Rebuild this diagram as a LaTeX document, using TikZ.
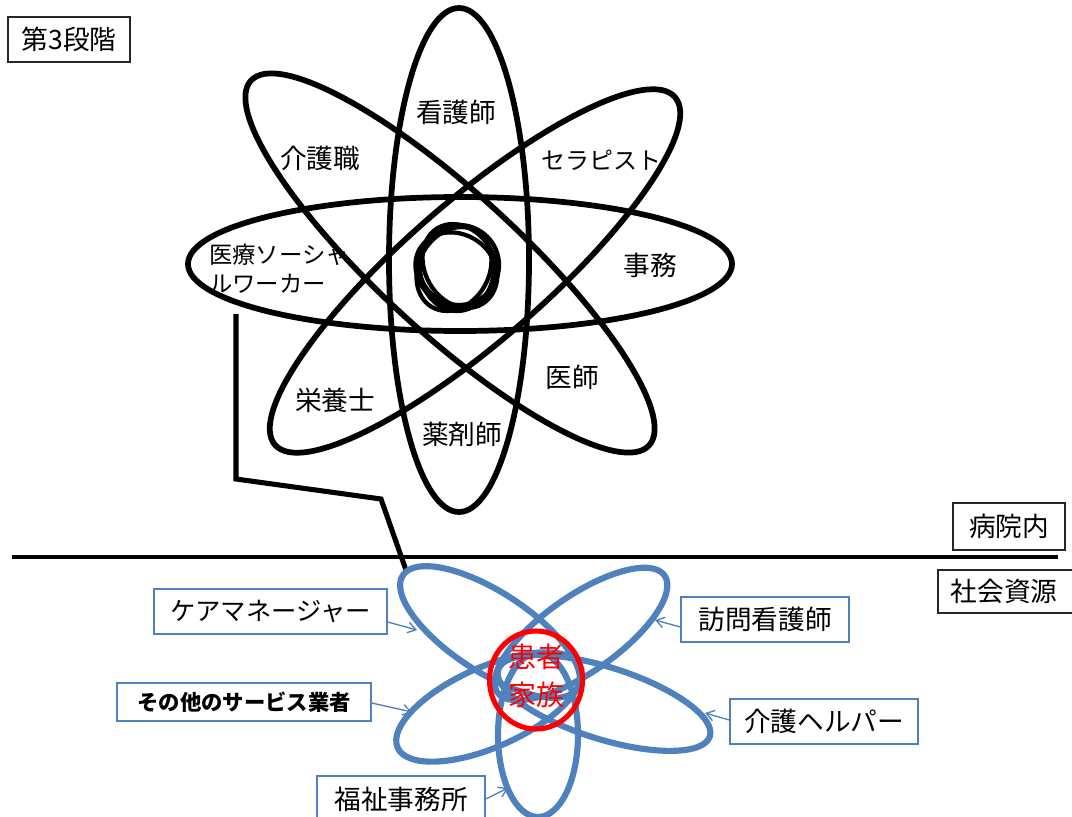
\documentclass[tikz,border=0pt]{standalone}
\usepackage{fontspec}
\setmainfont{Noto Sans CJK JP}
\usetikzlibrary{arrows.meta,calc}
\definecolor{pblue}{RGB}{79,129,189}
\begin{document}
\begin{tikzpicture}[x=0.75pt,y=0.75pt,
  blk/.style={draw=black,line width=4.3pt},
  ring/.style={draw=black,line width=3.2pt},
  blu/.style={draw=pblue,line width=4.6pt},
  lbl/.style={inner sep=0pt,font={\fontsize{20}{24}\selectfont}},
  bbox/.style={draw=black!85,line width=1.1pt,inner sep=0pt,font={\fontsize{20}{24}\selectfont}},
  ubox/.style={draw=pblue,line width=1.1pt,inner sep=0pt,font={\fontsize{20}{24}\selectfont}},
  arr/.style={draw=pblue,line width=1pt,-{Straight Barb[length=6pt,width=8pt]}}]
\useasboundingbox (0,0) rectangle (1072,-817);
\clip (0,0) rectangle (1072,-817);
\fill[white] (0,0) rectangle (1072,-817);

% ---------- top flower ----------
\draw[blk] (459,-260) ellipse [x radius=70,y radius=252];
\draw[blk] (460,-264) ellipse [x radius=272,y radius=67];
\draw[blk,rotate around={-42.5:(450,-263)}] (450,-263) ellipse [x radius=270,y radius=70];
\draw[blk,rotate around={41:(475,-271)}] (475,-271) ellipse [x radius=265,y radius=70];
\draw[ring] (457,-268) ellipse [x radius=37,y radius=43];
\draw[ring,rotate around={30:(460,-266)}] (460,-266) ellipse [x radius=35,y radius=44];
\draw[ring,rotate around={-30:(454,-269)}] (454,-269) ellipse [x radius=35,y radius=44];
\draw[ring] (459,-265) circle [radius=40];
\draw[ring,rotate around={60:(456,-270)}] (456,-270) ellipse [x radius=36,y radius=42];

\node[lbl] (kangoshi) at (456,-112) {看護師};
\node[lbl] (kaigoshoku) at (320,-158) {介護職};
\node[lbl,font={\fontsize{18}{22}\selectfont}] (therapist) at (601,-160) {セラピスト};
\node[lbl,font={\fontsize{17.5}{21.75}\selectfont},align=left,anchor=west] (msw) at (209,-269) {医療ソーシャ\\ルワーカー};
\node[lbl] (jimu) at (650,-265) {事務};
\node[lbl] (ishi) at (572,-377) {医師};
\node[lbl] (eiyoushi) at (335,-400) {栄養士};
\node[lbl] (yakuzaishi) at (462,-434) {薬剤師};

% ---------- connector and divider ----------
\coordinate (c1) at (236,-314);
\coordinate (c2) at (236,-479);
\coordinate (c3) at (381,-499);
\coordinate (c4) at (407,-573);
\draw[black,line width=3.8pt] (c1) -- (c2) -- (c3) -- (c4);
\coordinate (h1) at (12,-557);
\coordinate (h2) at (1058,-557);
\draw[black,line width=3pt] (h1) -- (h2);

% ---------- black boxes ----------
\node[bbox,minimum width=91.5pt,minimum height=33.75pt] (stage) at (69,-39.5) {第3段階};
\node[bbox,minimum width=84pt,minimum height=35.25pt] (byoin) at (1009,-526.5) {病院内};
\node[bbox,minimum width=106.5pt,minimum height=32.25pt] (shakaibox) at (1009,-591.5) {};
\node[lbl] (shakai) at (1004,-591.5) {社会資源};

% ---------- bottom flower ----------
\draw[blu,rotate around={-33:(490,-632)}] (490,-632) ellipse [x radius=104,y radius=40];
\draw[blu,rotate around={35:(581,-634)}] (581,-634) ellipse [x radius=102,y radius=38];
\draw[blu,rotate around={24:(489,-707)}] (489,-707) ellipse [x radius=100,y radius=40];
\draw[blu,rotate around={-17.5:(604,-703)}] (604,-703) ellipse [x radius=111,y radius=36];
\draw[blu] (538,-735) ellipse [x radius=40,y radius=82];

\draw[red,line width=3.8pt] (536,-680) ellipse [x radius=46.5,y radius=49];
\node[lbl,text=red,align=center,font={\fontsize{21}{28.5}\selectfont}] (kanja) at (536.5,-676) {患者\\家族};

% ---------- blue boxes ----------
\node[ubox,minimum width=174.75pt,minimum height=33.75pt,font={\fontsize{19}{23}\selectfont}] (caremgr) at (270.5,-611.5) {ケアマネージャー};
\node[ubox,minimum width=126pt,minimum height=33.75pt] (houmon) at (765,-619.5) {訪問看護師};
\node[ubox,minimum width=190.5pt,minimum height=28.5pt,font={\fontsize{16}{19}\selectfont\bfseries}] (sonota) at (244,-702) {その他のサービス業者};
\node[ubox,minimum width=141pt,minimum height=33.75pt] (helper) at (824,-721.5) {介護ヘルパー};
\node[ubox,minimum width=126pt,minimum height=34.5pt] (fukushi) at (401,-799) {福祉事務所};

% ---------- arrows ----------
\coordinate (tCM) at (417,-630);
\coordinate (tSO) at (412,-712);
\coordinate (tFK) at (508,-788);
\coordinate (tHM) at (655,-620);
\coordinate (tKH) at (705,-713);
\draw[arr] ($(caremgr.east)+(0,-10.5)$) -- (tCM);
\draw[arr] ($(sonota.east)+(0,-1)$) -- (tSO);
\draw[arr] (fukushi.east) -- (tFK);
\draw[arr] ($(houmon.west)+(0,-7.5)$) -- (tHM);
\draw[arr] ($(helper.west)+(0,1.5)$) -- (tKH);
\end{tikzpicture}
\end{document}
